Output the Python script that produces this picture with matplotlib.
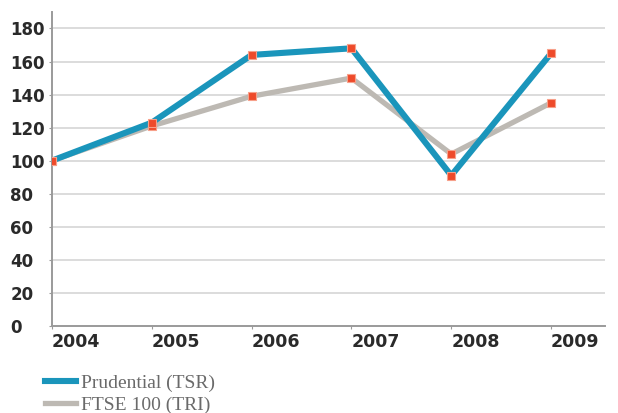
import numpy as np
import matplotlib
matplotlib.use('Agg')
import matplotlib.pyplot as plt
from matplotlib.lines import Line2D

years = [2004, 2005, 2006, 2007, 2008, 2009]
prudential_tsr = [100, 123, 164, 168, 91, 165]
ftse_tri = [100, 121, 139, 150, 104, 135]
y_ticks = [0, 20, 40, 60, 80, 100, 120, 140, 160, 180]
series_names = ['Prudential (TSR)', 'FTSE 100 (TRI)']

blue = '#1a95bb'
grey = '#bdb9b3'
marker_col = '#ee4a2a'

fig = plt.figure(figsize=(6.18, 4.13), dpi=100)
ax = fig.add_axes([0.084, 0.211, 0.895, 0.76])

for y in y_ticks[1:]:
    ax.axhline(y, color='#d6d6d6', lw=1.2, zorder=0)

ax.plot(years, ftse_tri, color=grey, lw=3.8, solid_joinstyle='miter', zorder=2)
ax.plot(years, prudential_tsr, color=blue, lw=4.4, solid_joinstyle='miter', zorder=3)
ax.plot(years, ftse_tri, ls='none', marker='s', ms=5.5, mfc=marker_col, mec='#f7a08a', mew=0.8, zorder=4)
ax.plot(years, prudential_tsr, ls='none', marker='s', ms=5.5, mfc=marker_col, mec='#f7a08a', mew=0.8, zorder=4)

ax.set_xlim(2004, 2009.54)
ax.set_ylim(0, 190)
ax.set_yticks(y_ticks)
ax.set_xticks(years)
ax.set_xticklabels([str(y) for y in years], ha='left')

for side in ['top', 'right']:
    ax.spines[side].set_visible(False)
ax.spines['left'].set_color('#9a9a9a')
ax.spines['left'].set_linewidth(1.4)
ax.spines['bottom'].set_color('#9a9a9a')
ax.spines['bottom'].set_linewidth(1.4)

ax.tick_params(axis='x', length=2, color='#9a9a9a', pad=3, labelsize=12.5, labelcolor='#2a2a2a')
ax.tick_params(axis='y', length=2, color='#9a9a9a', pad=0, labelsize=12, labelcolor='#2a2a2a')
for lbl in ax.get_xticklabels() + ax.get_yticklabels():
    lbl.set_fontweight('semibold')
for lbl in ax.get_xticklabels():
    lbl.set_x(lbl.get_position()[0] - 0.02)
for lbl in ax.get_yticklabels():
    lbl.set_horizontalalignment('left')
    lbl.set_transform(ax.get_yaxis_transform())
    lbl.set_x(-0.075)

handles = [Line2D([0], [0], color=blue, lw=4.4),
           Line2D([0], [0], color=grey, lw=3.8)]
fig.legend(handles, series_names, loc='lower left', bbox_to_anchor=(0.045, -0.045),
           frameon=False, handlelength=1.6, handletextpad=0.25, labelspacing=0.25,
           prop={'family': 'Liberation Serif', 'size': 14}, labelcolor='#6a6a6a')

fig.savefig('out.png', dpi=100, facecolor='white')
